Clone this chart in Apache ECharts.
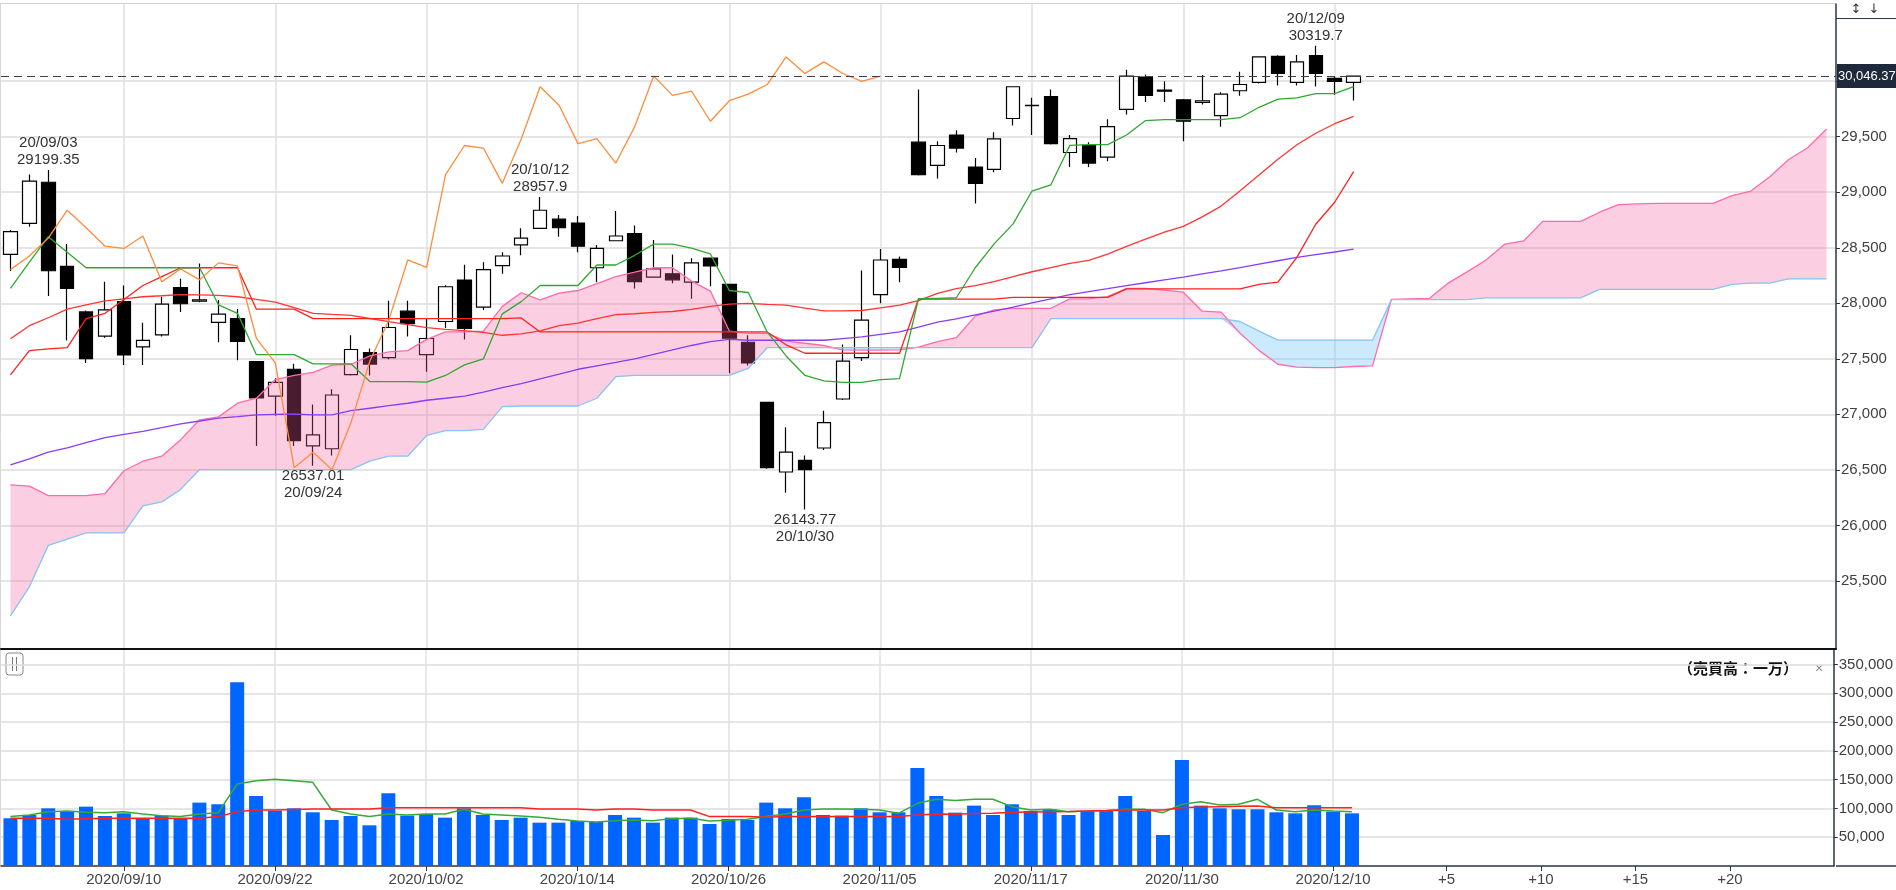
<!DOCTYPE html>
<html>
<head>
<meta charset="utf-8">
<title>NYダウ 一目均衡表</title>
<script src="https://cdn.jsdelivr.net/npm/echarts@6/dist/echarts.min.js"></script>
<style>
html, body { margin: 0; padding: 0; background: #fff; }
#main { width: 1896px; height: 890px; }
</style>
</head>
<body>
<div id="main"></div>
<script>
// 日付（営業日）
var dates = ['2020/09/01','2020/09/02','2020/09/03','2020/09/04','2020/09/08','2020/09/09','2020/09/10','2020/09/11','2020/09/14','2020/09/15',
    '2020/09/16','2020/09/17','2020/09/18','2020/09/21','2020/09/22','2020/09/23','2020/09/24','2020/09/25','2020/09/28','2020/09/29',
    '2020/09/30','2020/10/01','2020/10/02','2020/10/05','2020/10/06','2020/10/07','2020/10/08','2020/10/09','2020/10/12','2020/10/13',
    '2020/10/14','2020/10/15','2020/10/16','2020/10/19','2020/10/20','2020/10/21','2020/10/22','2020/10/23','2020/10/26','2020/10/27',
    '2020/10/28','2020/10/29','2020/10/30','2020/11/02','2020/11/03','2020/11/04','2020/11/05','2020/11/06','2020/11/09','2020/11/10',
    '2020/11/11','2020/11/12','2020/11/13','2020/11/16','2020/11/17','2020/11/18','2020/11/19','2020/11/20','2020/11/23','2020/11/24',
    '2020/11/25','2020/11/27','2020/11/30','2020/12/01','2020/12/02','2020/12/03','2020/12/04','2020/12/07','2020/12/08','2020/12/09',
    '2020/12/10','2020/12/11'];
// 先行スパン用の未来枠
var futureSlots = ['+1','+2','+3','+4','+5','+6','+7','+8','+9','+10','+11','+12','+13',
    '+14','+15','+16','+17','+18','+19','+20','+21','+22','+23','+24','+25'];

var opens = [28440,28720,29090,28332,27922,27705,28015,27608,27716,28141,
    28020,27828,27862,27474,27164,27406,26716,26690,27358,27556,
    27511,27929,27537,27836,28209,27966,28339,28526,28675,28757,
    28723,28320,28563,28627,28235,28265,28190,28406,28171,27649,
    27108,26481,26585,26697,27138,27511,28078,28395,29451,29242,
    29515,29227,29205,29664,29780,29862,29358,29422,29317,29746,
    30037,29920,29832,29810,29690,29914,29989,30224,29989,30231,
    30026,29989];
var highs = [28660,29160,29199.35,28533,27935,28195,28160,27824,28060,28220,
    28358,28030,27948,27480,27324,27455,27089,27227,27712,27593,
    28022,28022,27864,28162,28347,28369,28459,28675,28957.9,28794,
    28787,28526,28832,28701,28571,28440,28406,28410,28175,27712,
    27110,26884,26630,27033,27630,28295,28489,28421,29925,29459,
    29558,29309,29541,29955,29850,29925,29515,29450,29657,30104,
    30060,30000,29840,30056,29900,30086,30225,30233,30235,30319.7,
    30040,30046.37];
var lows = [28290,28690,28066,27664,27462,27690,27444,27444,27700,27921,
    28010,27649,27488,26716,26988,26716,26537.01,26630,27350,27350,
    27496,27700,27384,27778,27675,27940,28265,28433,28670,28600,
    28459,28190,28560,28134,28230,28180,28041,28153,27369,27440,
    26511,26294,26143.77,26680,27130,27480,28000,28190,29150,29123,
    29358,28899,29180,29600,29515,29429,29227,29227,29280,29700,
    29813,29813,29459,29790,29589,29869,29980,29962,29962,29951,
    29877,29825];
var closes = [28646,29100,28293,28133,27501,27940,27535,27666,27993,27996,
    28032,27902,27657,27148,27288,26763,26815,27174,27584,27453,
    27782,27817,27683,28149,27773,28303,28426,28587,28838,28680,
    28514,28494,28606,28195,28309,28211,28364,28336,27685,27463,
    26520,26659,26502,26925,27480,27848,28390,28323,29158,29421,
    29398,29080,29480,29950,29783,29438,29483,29263,29591,30046,
    29872,29910,29639,29824,29884,29970,30218,30070,30174,30069,
    29999,30046.37];

// 転換線
var tenkan = [28134,28370,28600,28460,28320,28320,28320,28320,28320,28320,
    28320,27985,27910,27537,27537,27537,27455,27455,27455,27295,
    27295,27295,27290,27350,27446,27499,27905,28015,28160,28160,
    28160,28345,28345,28432,28533,28533,28496,28444,28115,28097,
    27742,27526,27350,27302,27287,27287,27313,27321,28041,28045,
    28050,28320,28535,28715,29011,29067,29422,29429,29429,29515,
    29645,29653,29653,29653,29653,29671,29765,29839,29850,29888,
    29888,29951];
// 基準線
var kijun = [27355,27574,27590,27600,27862,27910,28035,28160,28240,28320,
    28320,28320,28320,27947,27947,27947,27862,27862,27862,27862,
    27862,27862,27862,27862,27862,27862,27862,27868,27742,27742,
    27742,27742,27742,27742,27742,27742,27742,27742,27742,27742,
    27742,27626,27550,27550,27550,27550,27550,27550,28038,28038,
    28038,28038,28038,28054,28054,28054,28054,28054,28054,28130,
    28130,28130,28130,28130,28130,28130,28171,28190,28414,28712,
    28910,29186];
// 25日移動平均
var ma25 = [27680,27798,27870,27947,27985,28022,28040,28059,28068,28078,
    28075,28071,28059,28035,28011,27960,27910,27900,27891,27863,
    27835,27808,27780,27765,27753,27739,27712,27724,27752,27799,
    27822,27861,27898,27906,27919,27926,27945,27972,27993,28000,
    27990,27984,27957,27931,27932,27935,27958,27983,28024,28089,
    28133,28159,28195,28240,28284,28321,28360,28387,28442,28512,
    28578,28640,28692,28778,28875,29013,29155,29298,29428,29531,
    29617,29684];
// 75日移動平均
var ma75 = [26544,26600,26660,26698,26745,26791,26820,26847,26880,26914,
    26940,26966,26980,26996,27000,27003,26996,26996,27033,27055,
    27078,27100,27127,27145,27164,27201,27240,27276,27320,27363,
    27406,27437,27468,27500,27540,27580,27620,27655,27675,27667,
    27667,27667,27667,27667,27682,27697,27720,27742,27785,27830,
    27860,27895,27930,27966,28003,28040,28078,28105,28132,28160,
    28185,28210,28235,28264,28292,28321,28352,28383,28414,28438,
    28462,28488];
// 先行スパン1
var spanA = [26365,26354,26268,26268,26268,26287,26492,26578,26623,26772,
    26951,26977,27100,27145,27313,27350,27377,27444,27451,27526,
    27563,27574,27675,27742,27742,27750,27972,28095,28030,28091,
    28115,28178,28240,28280,28320,28320,28200,28110,27750,27730,
    27730,27660,27640,27620,27580,27578,27578,27580,27606,27654,
    27690,27884,27940,27955,27955,27955,28040,28040,28060,28134,
    28134,28119,28100,27929,27921,27730,27576,27451,27426,27420,
    27420,27431,27436,28036,28040,28044,28182,28283,28390,28533,
    28563,28738,28738,28738,28820,28888,28895,28899,28899,28899,
    28899,28970,29011,29140,29295,29401,29570];
// 先行スパン2
var spanB = [25186,25447,25820,25876,25932,25932,25932,26175,26212,26324,
    26503,26503,26503,26503,26503,26503,26503,26503,26503,26578,
    26623,26623,26810,26854,26854,26865,27070,27075,27075,27075,
    27075,27145,27339,27350,27350,27350,27350,27350,27350,27414,
    27600,27600,27600,27600,27600,27600,27600,27600,27600,27600,
    27600,27600,27600,27600,27600,27862,27862,27862,27862,27862,
    27862,27862,27862,27862,27862,27836,27750,27668,27668,27668,
    27668,27668,27668,28033,28033,28033,28033,28033,28048,28048,
    28048,28048,28048,28048,28126,28126,28126,28126,28126,28126,
    28126,28171,28182,28182,28220,28220,28220];

// 売買高
var volumes = [82900,88600,100200,95600,103100,86900,91500,82900,87500,82900,
    110100,107200,319300,121700,96200,100200,93300,80000,86900,70700,
    126300,87500,90400,84000,100200,88600,80000,84000,75300,75300,
    78200,76500,88600,84000,75300,84000,84000,73000,81700,80000,
    110100,100200,119400,88600,87500,100200,93300,93300,170300,121700,
    92700,104900,88600,107200,95600,98500,88600,95600,95600,121700,
    95600,53900,184200,104900,100200,98500,98500,93300,91500,105500,
    94400,91500];
var volMa5 = [85800,88600,94400,95600,93300,92700,94400,90400,87500,85800,
    90400,92700,142500,148300,150600,148300,145400,97300,90400,85800,
    90400,88600,90400,90400,98500,90400,88600,86900,84600,81100,
    78200,76500,78800,80000,78800,82300,82900,78200,79400,81100,
    85800,90400,97300,99100,99100,98500,97300,91500,108900,115900,
    113600,115900,115900,103100,97300,98500,94400,95600,96200,98500,
    98500,92700,107200,111800,106000,107200,115900,97300,94400,97300,
    95600,94400];
var volMa25 = [82900,82900,82900,81100,82000,82900,82900,82900,82900,82900,
    82900,85800,94400,97300,97300,98200,99100,99100,99100,99100,
    101400,101400,101400,101400,101400,101400,101400,101400,99100,99100,
    99100,97300,99100,99100,97300,97300,97300,85800,85800,85800,
    84600,85800,85800,85800,85800,85800,85800,85800,88600,90400,
    89800,91000,91500,93300,93800,94400,94800,95600,96300,97300,
    97300,97300,101400,102300,103100,103700,104300,101400,101400,101400,
    101400,101400];

// 目盛
var priceTicks = [25500,26000,26500,27000,27500,28000,28500,29000,29500,30000];
var priceLabels = [25500,26000,26500,27000,27500,28000,28500,29000,29500];
var volTicks = [50000,100000,150000,200000,250000,300000,350000];
var labelIdx = [6,14,22,30,38,46,54,62,70,76,81,86,91];
var gridIdx = [6,14,22,30,38,46,54,62,70];
var peakIdx = [2,28,69];
var troughIdx = [16,42];
var chikouShift = 25;

var categories = dates.concat(futureSlots);
var lastPrice = closes[closes.length - 1];

function comma(v) {
    return String(v).replace(/\B(?=(\d{3})+(?!\d))/g, ',');
}

var candles = [];
for (var i = 0; i < closes.length; i++) {
    candles.push([opens[i], closes[i], lows[i], highs[i]]);
}
var chikou = closes.slice(chikouShift);

// 雲（陽転・陰転で色分け）
var kumoLo = [], kumoPink = [], kumoBlue = [];
for (var k = 0; k < spanA.length; k++) {
    kumoLo.push(Math.min(spanA[k], spanB[k]));
    kumoPink.push(Math.max(spanA[k] - spanB[k], 0));
    kumoBlue.push(Math.max(spanB[k] - spanA[k], 0));
}

var marks = [];
peakIdx.forEach(function (p) {
    marks.push({coord: [categories[p], highs[p]],
        label: {position: 'top', distance: 1, formatter: dates[p].slice(2) + '\n' + highs[p]}});
});
troughIdx.forEach(function (p) {
    marks.push({coord: [categories[p], lows[p]],
        label: {position: 'bottom', distance: 1, formatter: lows[p] + '\n' + dates[p].slice(2)}});
});

function showAt(list) {
    return function (idx) { return list.indexOf(idx) >= 0; };
}

function line(data, color, xi, yi, width, z) {
    return {
        type: 'line', xAxisIndex: xi, yAxisIndex: yi, data: data,
        symbol: 'none', silent: true, z: z || 4,
        lineStyle: {color: color, width: width || 1.3}
    };
}

var FONT = '"Liberation Sans", Arial, sans-serif';
var AXIS_COLOR = '#2a3547';

var chart = echarts.init(document.getElementById('main'));
var option = {
    animation: false,
    backgroundColor: '#fff',
    textStyle: {fontFamily: FONT},
    grid: [
        {left: 1, right: 60, top: 4, height: 645},
        {left: 1, right: 60, top: 649, height: 217}
    ],
    xAxis: [
        {
            type: 'category', gridIndex: 0, data: categories,
            axisLine: {show: true, onZero: false, lineStyle: {color: '#111', width: 2}},
            axisTick: {show: false}, axisLabel: {show: false}, splitLine: {show: false}
        },
        {
            type: 'category', gridIndex: 1, data: categories,
            axisLine: {show: true, onZero: false, lineStyle: {color: AXIS_COLOR, width: 1.5}},
            axisTick: {show: true, alignWithLabel: true, interval: showAt(labelIdx), length: 5,
                lineStyle: {color: AXIS_COLOR}},
            axisLabel: {interval: showAt(labelIdx), fontSize: 15, color: '#444', margin: 6, fontFamily: FONT},
            splitLine: {show: false}
        },
        {
            type: 'value', gridIndex: 0, min: -0.5, max: 96.5,
            axisLine: {show: false, onZero: false}, axisLabel: {show: false},
            axisTick: {show: false, customValues: gridIdx},
            splitLine: {show: true, lineStyle: {color: '#e0e0e0', width: 1.5}}
        },
        {
            type: 'value', gridIndex: 1, min: -0.5, max: 96.5,
            axisLine: {show: false, onZero: false}, axisLabel: {show: false},
            axisTick: {show: false, customValues: gridIdx},
            splitLine: {show: true, lineStyle: {color: '#e0e0e0', width: 1.5}}
        }
    ],
    yAxis: [
        {
            type: 'value', gridIndex: 0, position: 'right', min: 24887, max: 30695,
            axisLine: {show: true, onZero: false, lineStyle: {color: AXIS_COLOR, width: 1.5}},
            axisTick: {show: true, length: 4, customValues: priceTicks, lineStyle: {color: AXIS_COLOR}},
            axisLabel: {customValues: priceLabels, formatter: comma, fontSize: 15, color: '#404040', margin: 5},
            splitLine: {show: true, lineStyle: {color: '#dcdcdc', width: 1.5}}
        },
        {
            type: 'value', gridIndex: 1, position: 'right', min: 0, max: 377000,
            axisLine: {show: true, onZero: false, lineStyle: {color: AXIS_COLOR, width: 1.5}},
            axisTick: {show: true, length: 4, customValues: volTicks, lineStyle: {color: AXIS_COLOR}},
            axisLabel: {customValues: volTicks, formatter: comma, fontSize: 15, color: '#404040', margin: 5},
            splitLine: {show: true, lineStyle: {color: '#dcdcdc', width: 1.5}}
        }
    ],
    series: [
        {
            name: 'ローソク足', type: 'candlestick', xAxisIndex: 0, yAxisIndex: 0,
            data: candles, barWidth: 14, z: 2,
            itemStyle: {color: '#fff', color0: '#000', borderColor: '#000', borderColor0: '#000', borderWidth: 1.2},
            markLine: {
                silent: true, symbol: ['none', 'none'], z: 6,
                lineStyle: {color: '#3b4152', type: [8, 5], width: 1},
                label: {
                    show: true, position: 'end', distance: 1,
                    formatter: comma(lastPrice), color: '#fff', backgroundColor: '#1e2a3c',
                    fontSize: 13, lineHeight: 14, padding: [5, 1, 5, 1], fontFamily: FONT
                },
                data: [{yAxis: lastPrice}]
            },
            markPoint: {
                silent: true, symbol: 'circle', symbolSize: 1, z: 7,
                itemStyle: {color: 'rgba(0,0,0,0)'},
                label: {show: true, color: '#333', fontSize: 15, lineHeight: 17, fontFamily: FONT},
                data: marks
            }
        },
        // 雲
        {type: 'line', xAxisIndex: 0, yAxisIndex: 0, stack: 'kumoP', data: kumoLo, symbol: 'none', silent: true,
            lineStyle: {opacity: 0}, z: 3},
        {type: 'line', xAxisIndex: 0, yAxisIndex: 0, stack: 'kumoP', data: kumoPink, symbol: 'none', silent: true,
            lineStyle: {opacity: 0}, areaStyle: {color: '#f45c9c', opacity: 0.3}, z: 3},
        {type: 'line', xAxisIndex: 0, yAxisIndex: 0, stack: 'kumoB', data: kumoLo, symbol: 'none', silent: true,
            lineStyle: {opacity: 0}, z: 3},
        {type: 'line', xAxisIndex: 0, yAxisIndex: 0, stack: 'kumoB', data: kumoBlue, symbol: 'none', silent: true,
            lineStyle: {opacity: 0}, areaStyle: {color: '#64bef8', opacity: 0.33}, z: 3},
        line(spanA, '#ff6aae', 0, 0),
        line(spanB, '#86c4f2', 0, 0),
        line(ma75, '#8a3cf5', 0, 0),
        line(ma25, '#ff3535', 0, 0),
        line(kijun, '#ff2020', 0, 0),
        line(tenkan, '#30a830', 0, 0),
        line(chikou, '#ff8c3c', 0, 0),
        // 売買高
        {
            name: '売買高', type: 'bar', xAxisIndex: 1, yAxisIndex: 1, data: volumes,
            barWidth: 14, itemStyle: {color: '#0066ff'}, silent: true
        },
        line(volMa5, '#38a838', 1, 1, 1.5),
        line(volMa25, '#ff2020', 1, 1, 1.5)
    ],
    graphic: [
        {type: 'line', silent: true, shape: {x1: 0, y1: 3.5, x2: 1836, y2: 3.5}, style: {stroke: '#d0d0d0', lineWidth: 1}},
        {type: 'line', silent: true, shape: {x1: 0.5, y1: 3, x2: 0.5, y2: 866}, style: {stroke: '#d8d8d8', lineWidth: 1}},
        {type: 'line', silent: true, shape: {x1: 1836, y1: 18.5, x2: 1896, y2: 18.5}, style: {stroke: AXIS_COLOR, lineWidth: 1.2}},
        {type: 'line', silent: true, shape: {x1: 1836, y1: 866, x2: 1896, y2: 866}, style: {stroke: AXIS_COLOR, lineWidth: 1.5}},
        {type: 'text', silent: true, style: {text: '↕', x: 1856, y: 10, fontSize: 13, fill: '#333',
            textAlign: 'center', textVerticalAlign: 'middle', fontFamily: '"DejaVu Sans", sans-serif'}},
        {type: 'text', silent: true, style: {text: '↓', x: 1874, y: 10, fontSize: 13, fill: '#333',
            textAlign: 'center', textVerticalAlign: 'middle', fontFamily: '"DejaVu Sans", sans-serif'}},
        {type: 'rect', silent: true, shape: {x: 6, y: 653, width: 17, height: 22, r: 3},
            style: {fill: '#fff', stroke: '#888', lineWidth: 1}},
        {type: 'line', silent: true, shape: {x1: 12.5, y1: 657, x2: 12.5, y2: 671}, style: {stroke: '#777', lineWidth: 1}},
        {type: 'line', silent: true, shape: {x1: 16.5, y1: 657, x2: 16.5, y2: 671}, style: {stroke: '#777', lineWidth: 1}},
        {type: 'text', silent: true, style: {text: '（売買高：一万）', x: 1798, y: 668, fontSize: 15, fill: '#111',
            fontWeight: 'bold', textAlign: 'right', textVerticalAlign: 'middle', fontFamily: '"Noto Sans CJK JP", sans-serif'}},
        {type: 'text', silent: true, style: {text: '×', x: 1819, y: 669, fontSize: 14, fill: '#888',
            textAlign: 'center', textVerticalAlign: 'middle', fontFamily: FONT}}
    ]
};
chart.setOption(option);
</script>
</body>
</html>
